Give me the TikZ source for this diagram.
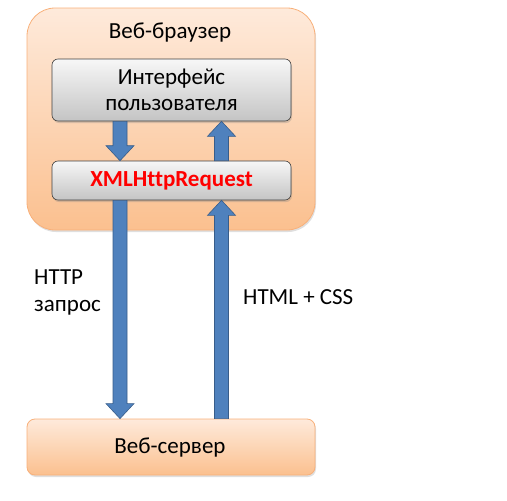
\documentclass[tikz,border=0pt]{standalone}
\usepackage{fontspec}
\setmainfont{Carlito}[Ligatures=NoCommon]
\usetikzlibrary{calc,shadows}
\definecolor{peachTop}{HTML}{FEEADB}
\definecolor{peachBot}{HTML}{FBC08F}
\definecolor{peachLine}{HTML}{F8B07A}
\definecolor{grayTop}{HTML}{F7F7F7}
\definecolor{grayBot}{HTML}{C4C4C4}
\definecolor{arrFill}{HTML}{4F81BD}
\definecolor{arrLine}{HTML}{385D8A}
\definecolor{xhrRed}{HTML}{FF0000}
\tikzset{
  peachbox/.style={draw=peachLine, line width=0.8pt, top color=peachTop, bottom color=peachBot,
     drop shadow={opacity=0.25, shadow xshift=1pt, shadow yshift=-2pt}},
  graybox/.style={draw=black!75, line width=0.6pt, top color=grayTop, bottom color=grayBot,
     rounded corners=6pt, minimum width=239pt, inner sep=0pt, align=center,
     drop shadow={opacity=0.3, shadow xshift=1pt, shadow yshift=-2pt}},
  blockarr/.style={fill=arrFill, draw=arrLine, line width=0.6pt},
  lbl/.style={font=\fontsize{23}{27}\selectfont, inner sep=0pt},
}
\newcommand\barrow[2]{%
  \path[blockarr] let \p1=(#1), \p2=(#2), \n1={sign(\y2-\y1)} in
   (\x1-7pt,\y1) -- (\x1-7pt,\y2-\n1*15pt) -- (\x1-14pt,\y2-\n1*15pt) -- (\x1,\y2)
   -- (\x1+14pt,\y2-\n1*15pt) -- (\x1+7pt,\y2-\n1*15pt) -- (\x1+7pt,\y1) -- cycle;}
\begin{document}
\begin{tikzpicture}[x=1pt,y=-1pt]
\useasboundingbox (0,0) rectangle (507,501);
% browser
\node[peachbox, rounded corners=28pt, minimum width=288pt, minimum height=222pt, inner sep=0pt] (browser) at (171,119) {};
\node[lbl] (btitle) at (170,33) {Веб-браузер};
\node[graybox, minimum height=62pt, font=\fontsize{23}{26}\selectfont] (ui) at (171.5,90) {Интерфейс\\пользователя};
\node[graybox, minimum height=39pt, font=\fontsize{23}{26}\selectfont\bfseries, text=xhrRed] (xhr) at (171.5,180.5) {XMLHttpRequest};
% server
\node[peachbox, rounded corners=8pt, minimum width=288pt, minimum height=56pt, inner sep=0pt] (server) at (171,447) {};
\node[lbl] (stitle) at (170,448) {Веб-сервер};
% arrow columns
\coordinate (L) at (120,0);
\coordinate (R) at (221.5,0);
\barrow{ui.south -| L}{xhr.north -| L}
\barrow{xhr.north -| R}{ui.south -| R}
\barrow{xhr.south -| L}{server.north -| L}
\barrow{server.north -| R}{xhr.south -| R}
% labels
\node[lbl, anchor=west, align=left] (req) at (34,292) {HTTP\\запрос};
\node[lbl, anchor=west] (resp) at (243,297) {HTML + CSS};
\end{tikzpicture}
\end{document}
